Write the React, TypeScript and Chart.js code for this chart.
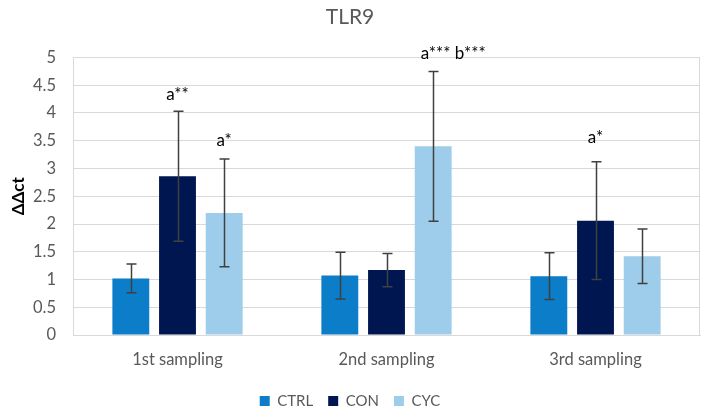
import React, { useEffect, useRef } from "react";
import { Chart, registerables } from "chart.js";

Chart.register(...registerables);

const chartTitle = "TLR9";
const yAxisTitle = "ΔΔct";
const categories = ["1st sampling", "2nd sampling", "3rd sampling"];
const seriesNames = ["CTRL", "CON", "CYC"];
const ctrlValues = [1.02, 1.07, 1.06];
const conValues = [2.86, 1.17, 2.06];
const cycValues = [2.2, 3.4, 1.42];
const ctrlErrors = [0.26, 0.42, 0.42];
const conErrors = [1.17, 0.3, 1.06];
const cycErrors = [0.97, 1.35, 0.49];
const yMin = 0;
const yMax = 5;
const yStep = 0.5;
// significance markers: [seriesIndex, categoryIndex, text]
const sigSeries = [1, 2, 2, 1];
const sigCategory = [0, 0, 1, 2];
const sigText = ["a**", "a*", "a*** b***", "a*"];

// styles (kept apart from data)
const seriesColors = ["#0b7dc9", "#001650", "#9ecdeb"];
const sigOffsetX = [0, 0, 20, 0];
const sigOffsetY = [17, 19, 18, 24];
const FONT = "Lato, 'Open Sans', 'DejaVu Sans', sans-serif";
const GRID = "#d9d9d9";
const TEXT = "#595959";

const values = [ctrlValues, conValues, cycValues];
const errors = [ctrlErrors, conErrors, cycErrors];

const errorBarPlugin = {
  id: "errorBars",
  afterDatasetsDraw(chart: any) {
    const ctx = chart.ctx;
    const yScale = chart.scales.y;
    ctx.save();
    ctx.strokeStyle = "#404040";
    ctx.lineWidth = 1.5;
    chart.data.datasets.forEach((ds: any, i: number) => {
      const meta = chart.getDatasetMeta(i);
      meta.data.forEach((el: any, j: number) => {
        const v = values[i][j];
        const e = errors[i][j];
        const x = Math.round(el.x) + 0.5;
        const yt = yScale.getPixelForValue(v + e);
        const yb = yScale.getPixelForValue(v - e);
        const cap = 5;
        ctx.beginPath();
        ctx.moveTo(x, yt);
        ctx.lineTo(x, yb);
        ctx.moveTo(x - cap, yt);
        ctx.lineTo(x + cap, yt);
        ctx.moveTo(x - cap, yb);
        ctx.lineTo(x + cap, yb);
        ctx.stroke();
      });
    });
    ctx.restore();
  },
};

const frameAndLabelsPlugin = {
  id: "frameAndLabels",
  beforeDatasetsDraw(chart: any) {
    const { ctx, chartArea } = chart;
    ctx.save();
    ctx.strokeStyle = GRID;
    ctx.lineWidth = 1;
    const r = Math.round(chartArea.right) - 0.5;
    ctx.beginPath();
    ctx.moveTo(r, Math.round(chartArea.top));
    ctx.lineTo(r, Math.round(chartArea.bottom));
    ctx.stroke();
    ctx.restore();
  },
  afterDraw(chart: any) {
    const ctx = chart.ctx;
    const yScale = chart.scales.y;
    ctx.save();
    ctx.fillStyle = "#000000";
    ctx.font = `17px ${FONT}`;
    ctx.textAlign = "center";
    ctx.textBaseline = "middle";
    sigText.forEach((t, k) => {
      const s = sigSeries[k];
      const c = sigCategory[k];
      const el = chart.getDatasetMeta(s).data[c];
      const top = yScale.getPixelForValue(values[s][c] + errors[s][c]);
      ctx.fillText(t, el.x + sigOffsetX[k], top - sigOffsetY[k]);
    });
    ctx.restore();
  },
};

export default function App() {
  const ref = useRef<HTMLCanvasElement>(null);
  useEffect(() => {
    if (!ref.current) return;
    const chart = new Chart(ref.current, {
      type: "bar",
      data: {
        labels: categories,
        datasets: seriesNames.map((name, i) => ({
          label: name,
          data: values[i],
          backgroundColor: seriesColors[i],
          borderWidth: 0,
          categoryPercentage: 0.67,
          barPercentage: 0.79,
        })),
      },
      options: {
        responsive: false,
        animation: false,
        layout: { padding: { left: 0, right: 5, top: 0, bottom: -4.5 } },
        plugins: {
          tooltip: { enabled: false },
          title: {
            display: true,
            text: chartTitle,
            color: TEXT,
            font: { family: FONT, size: 21, weight: "normal" },
            padding: { top: 4.4, bottom: 27.9 },
          },
          legend: {
            position: "bottom",
            labels: {
              boxWidth: 10,
              boxHeight: 10,
              padding: 15,
              color: TEXT,
              font: { family: FONT, size: 15 },
            },
          },
        },
        scales: {
          x: {
            grid: { display: false, drawTicks: false },
            border: { display: true, color: GRID, width: 1 },
            ticks: { color: TEXT, padding: 15, font: { family: FONT, size: 16.5 } },
            afterFit: (scale: any) => {
              scale.height = 43.5;
            },
          },
          y: {
            min: yMin,
            max: yMax,
            grid: { color: GRID, lineWidth: 1, drawTicks: false },
            border: { display: true, color: GRID, width: 1 },
            ticks: {
              stepSize: yStep,
              color: TEXT,
              padding: 17,
              font: { family: FONT, size: 16.5 },
              callback: (v: any) => String(v),
            },
            title: {
              display: true,
              text: yAxisTitle,
              color: "#000000",
              font: { family: FONT, size: 17, weight: "bold" },
              padding: { top: 8, bottom: 0 },
            },
            afterFit: (scale: any) => {
              scale.width = 73;
            },
          },
        },
      },
      plugins: [errorBarPlugin, frameAndLabelsPlugin],
    } as any);
    return () => chart.destroy();
  }, []);
  return (
    <div style={{ position: "absolute", left: 0, top: 0, width: 705, height: 414, background: "#ffffff" }}>
      <canvas ref={ref} width={705} height={414} style={{ display: "block" }} />
    </div>
  );
}
